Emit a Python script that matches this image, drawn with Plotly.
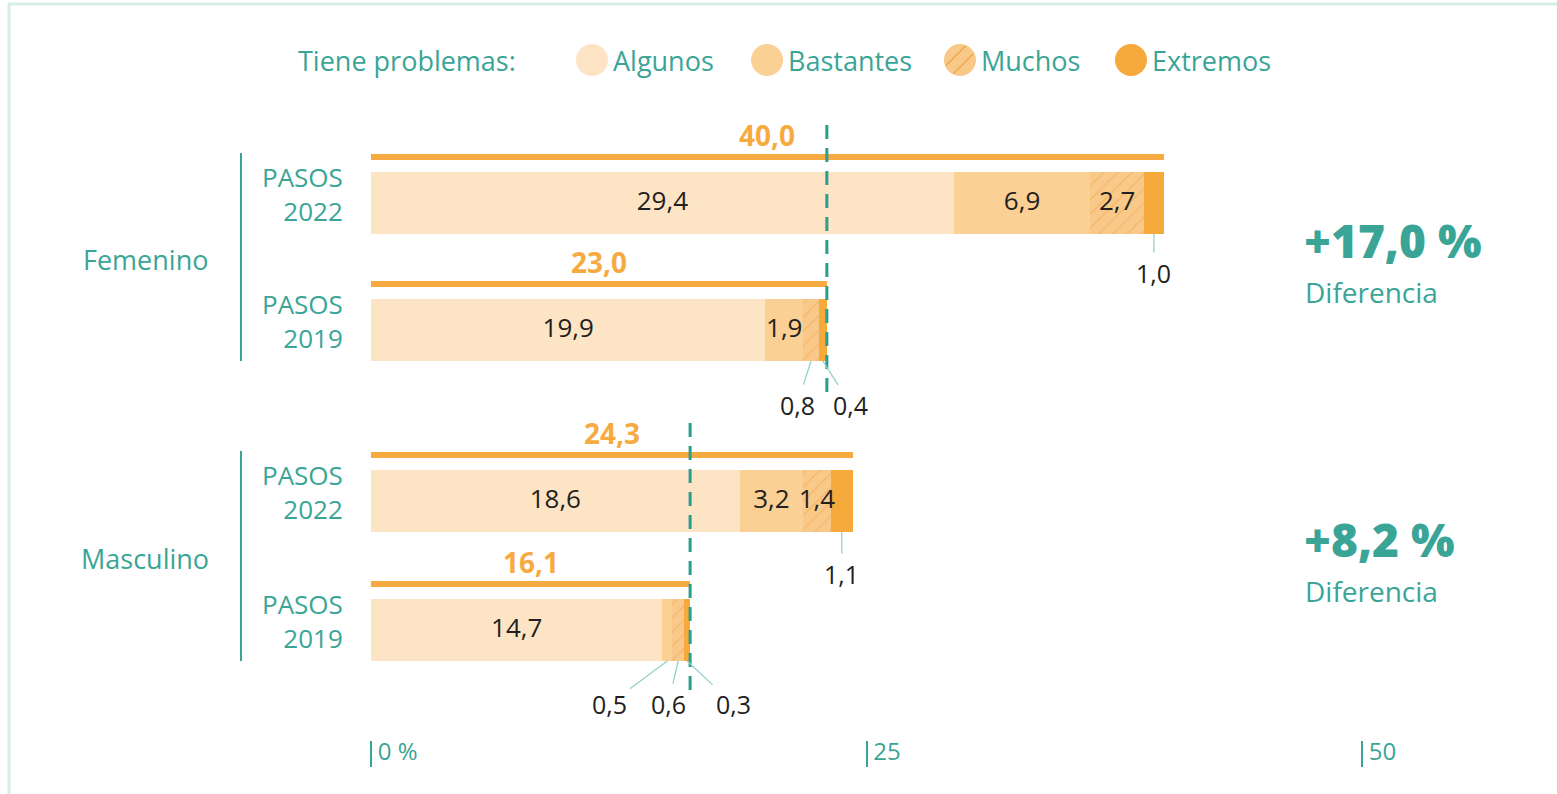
import math
import plotly.graph_objects as go

# ---------------- data ----------------
groups = ["Femenino", "Masculino"]
rows = ["PASOS<br>2022", "PASOS<br>2019", "PASOS<br>2022", "PASOS<br>2019"]
row_group = [0, 0, 1, 1]
levels = ["Algunos", "Bastantes", "Muchos", "Extremos"]
algunos = [29.4, 19.9, 18.6, 14.7]
bastantes = [6.9, 1.9, 3.2, 0.5]
muchos = [2.7, 0.8, 1.4, 0.6]
extremos = [1.0, 0.4, 1.1, 0.3]
totals = [40.0, 23.0, 24.3, 16.1]
tick_vals = [0, 25, 50]
tick_text = ["0 %", "25", "50"]
legend_title = "Tiene problemas:"
diff_label = "Diferencia"

# ---------------- layout / style ----------------
W, H = 1557, 794
ML, MR, MT, MB = 371, 195, 0, 54
PW = W - ML - MR
XMAX = 50
PH = H - MT - MB

def px_x(px):
    return (px - ML) / PW * XMAX

def px_paper(px):
    return (px - ML) / PW

ROW_Y = [203, 330, 501, 630]          # pixel centre of each bar row
BAR_W = 62
TOT_OFF = 46
TOT_W = 6

TEAL = "#3aa596"
TEAL_DARK = "#2a9d8f"
LEAD = "#93d2c9"
DARK = "#231f20"
ORANGE = "#f6aa3f"
COLORS = ["#fde4c4", "#fbd095", "#f9c98a", "#f7aa3c"]
HATCH = "#eea548"
FONT = "Open Sans"

series = [algunos, bastantes, muchos, extremos]

def fmt(v):
    return f"{v:.1f}".replace(".", ",")

INSIDE_MIN = 1.2

fig = go.Figure()
for i, (name, vals) in enumerate(zip(levels, series)):
    marker = dict(color=COLORS[i], line=dict(width=0))
    if name == "Muchos":
        marker["pattern"] = dict(shape="/", fgcolor=HATCH, fgopacity=0.55,
                                 bgcolor=COLORS[i], size=10, solidity=0.12)
    fig.add_trace(go.Bar(
        y=ROW_Y, x=vals, orientation="h", name=name, width=BAR_W,
        marker=marker, showlegend=False, hoverinfo="skip",
    ))

# total lines
fig.add_trace(go.Bar(
    y=[r - TOT_OFF for r in ROW_Y], x=totals, orientation="h", width=TOT_W,
    marker=dict(color=ORANGE, line=dict(width=0)), showlegend=False,
    hoverinfo="skip",
))

annotations = []
shapes = []

# inside value labels (drawn on top of all bars) + outside labels with leader lines
lead_offsets = {
    (0, 3): (0, 39),
    (1, 2): (-14, 44), (1, 3): (28, 44),
    (2, 3): (0, 42),
    (3, 1): (-58, 43), (3, 2): (-10, 43), (3, 3): (46, 43),
}
in_x, in_y, in_t = [], [], []
for ri in range(4):
    cum = 0
    for si, vals in enumerate(series):
        v = vals[ri]
        mid = cum + v / 2
        cum += v
        if v >= INSIDE_MIN:
            in_x.append(mid)
            in_y.append(ROW_Y[ri])
            in_t.append(fmt(v))
        else:
            ax, ay = lead_offsets.get((ri, si), (0, 40))
            annotations.append(dict(
                x=mid, y=ROW_Y[ri] + BAR_W / 2, xref="x", yref="y",
                text=fmt(v), showarrow=True, arrowhead=0, arrowwidth=1.3,
                arrowcolor=LEAD, ax=ax, ay=ay, standoff=0, startstandoff=2,
                font=dict(family=FONT, size=25, color=DARK)))

fig.add_trace(go.Scatter(
    x=in_x, y=in_y, mode="text", text=in_t, textposition="middle center",
    textfont=dict(family=FONT, size=26, color=DARK), showlegend=False,
    hoverinfo="skip", cliponaxis=False,
))

# total labels
for r, t in zip(ROW_Y, totals):
    annotations.append(dict(x=t / 2, y=r - TOT_OFF - 22, text=f"<b>{fmt(t)}</b>",
                            showarrow=False, font=dict(family=FONT, size=28, color=ORANGE),
                            xanchor="center", yanchor="middle"))

# row labels
for r, lab in zip(ROW_Y, rows):
    annotations.append(dict(x=px_paper(345), xref="paper", y=r - 9, text=lab, showarrow=False,
                            xanchor="right", yanchor="middle", align="right",
                            font=dict(family=FONT, size=26, color=TEAL)))

# group labels, separators, dashed lines, differences
for gi, g in enumerate(groups):
    idx = [i for i, rg in enumerate(row_group) if rg == gi]
    r0, r1 = ROW_Y[idx[0]], ROW_Y[idx[1]]
    annotations.append(dict(x=px_paper(145), xref="paper", y=(r0 + r1) / 2 - 7, text=g,
                            showarrow=False, xanchor="center", yanchor="middle",
                            font=dict(family=FONT, size=27, color=TEAL)))
    shapes.append(dict(type="line", xref="paper", yref="y", x0=px_paper(241), x1=px_paper(241),
                       y0=r0 - 50, y1=r1 + 31, line=dict(color=TEAL, width=2)))
    t19 = totals[idx[1]]
    shapes.append(dict(type="line", xref="x", yref="y", x0=t19, x1=t19,
                       y0=r0 - 78, y1=r1 + (70 if gi == 0 else 60),
                       line=dict(color=TEAL_DARK, width=3, dash="14px,9px")))
    d = totals[idx[0]] - totals[idx[1]]
    yc = (r0 + r1) / 2
    annotations.append(dict(x=px_paper(1302), xref="paper", y=yc - 27, text=f"+{fmt(d)} %",
                            showarrow=False, xanchor="left", yanchor="middle",
                            font=dict(family=FONT, size=46, color=TEAL, weight=800)))
    annotations.append(dict(x=px_paper(1303), xref="paper", y=yc + 25, text=diff_label,
                            showarrow=False, xanchor="left", yanchor="middle",
                            font=dict(family=FONT, size=28, color=TEAL)))

# legend
LEG_Y = 60
annotations.append(dict(x=px_paper(296), xref="paper", y=LEG_Y, text=legend_title,
                        showarrow=False, xanchor="left", yanchor="middle",
                        font=dict(family=FONT, size=27, color=TEAL)))
leg_cx = [592, 767, 960, 1131]
R = 16
for name, cx, col in zip(levels, leg_cx, COLORS):
    shapes.append(dict(type="circle", xref="x", yref="y", x0=px_x(cx - R), x1=px_x(cx + R),
                       y0=LEG_Y - R, y1=LEG_Y + R, fillcolor=col, line=dict(width=0)))
    if name == "Muchos":
        s2 = 1 / math.sqrt(2)
        for dd in (-6, 5):
            half = math.sqrt(R * R - dd * dd) - 1
            mx, my = cx + dd * s2, LEG_Y + dd * s2
            shapes.append(dict(type="line", xref="x", yref="y",
                               x0=px_x(mx - half * s2), y0=my + half * s2,
                               x1=px_x(mx + half * s2), y1=my - half * s2,
                               line=dict(color=HATCH, width=1.3)))
    annotations.append(dict(x=px_x(cx + R + 3), y=LEG_Y, text=name, showarrow=False,
                            xanchor="left", yanchor="middle",
                            font=dict(family=FONT, size=27, color=TEAL)))

# frame
shapes.append(dict(type="line", xref="paper", yref="paper", x0=-(ML - 8) / PW, x1=(W - ML) / PW,
                   y0=1 + (MT - 4) / PH, y1=1 + (MT - 4) / PH, line=dict(color="#d6ede9", width=3)))
shapes.append(dict(type="line", xref="paper", yref="paper", x0=-(ML - 9) / PW, x1=-(ML - 9) / PW,
                   y0=1 + (MT - 4) / PH, y1=-MB / PH, line=dict(color="#d6ede9", width=3)))

fig.update_layout(
    width=W, height=H, margin=dict(l=ML, r=MR, t=MT, b=MB),
    barmode="stack", plot_bgcolor="white", paper_bgcolor="white",
    separators=",.",
    xaxis=dict(range=[0, XMAX], tickvals=tick_vals, ticktext=tick_text,
               ticks="outside", ticklen=26, tickwidth=1.5, tickcolor=TEAL,
               ticklabelposition="outside right", ticklabelstandoff=-10, ticklabelshift=6,
               tickfont=dict(family=FONT, size=24, color=TEAL),
               showgrid=False, zeroline=False, showline=False, fixedrange=True),
    yaxis=dict(range=[PH, 0], visible=False, fixedrange=True),
    annotations=annotations, shapes=shapes,
    font=dict(family=FONT),
)

fig.write_html("out.html", config={"displayModeBar": False},
               post_script="document.body.style.margin='0';document.body.style.overflow='hidden';")
